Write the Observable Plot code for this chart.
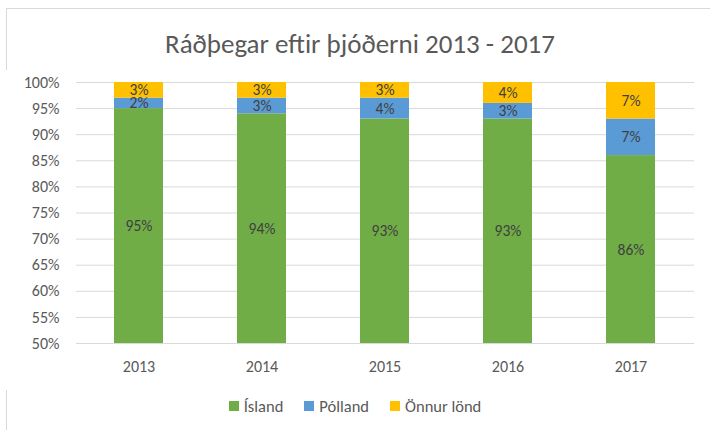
<!DOCTYPE html>
<html>
<head>
<meta charset="utf-8">
<script src="https://cdn.jsdelivr.net/npm/d3@7"></script>
<script src="https://cdn.jsdelivr.net/npm/@observablehq/plot@0.6"></script>
<style>
  html, body { margin: 0; padding: 0; background: #fff; }
  body { width: 710px; height: 430px; position: relative; overflow: hidden;
         font-family: Carlito, Calibri, Lato, "Liberation Sans", sans-serif; }
  #frame { position: absolute; left: 6px; top: 8px; width: 760px; height: 480px;
           border-left: 1px solid #d9d9d9; border-top: 1px solid #d9d9d9; }
  #title { position: absolute; left: 5px; width: 710px; top: 28px; text-align: center;
           font-size: 27px; color: #595959; line-height: 32px; }
  #chart { position: absolute; left: 0; top: 70px; }
  #legend { position: absolute; left: 0; width: 710px; top: 397px; display: flex;
            justify-content: center; gap: 21px; font-size: 16.5px; color: #595959; line-height: 18px; }
  #legend span.item { display: flex; align-items: center; }
  #legend span.sw { width: 10px; height: 10px; display: inline-block; margin-right: 5px; }
</style>
</head>
<body>
<div id="frame"></div>
<div id="title">Ráðþegar eftir þjóðerni 2013 - 2017</div>
<div id="chart"></div>
<div id="legend"></div>
<script>
const years = ["2013", "2014", "2015", "2016", "2017"];
const series = ["Ísland", "Pólland", "Önnur lönd"];
const colors = ["#70AD47", "#5B9BD5", "#FFC000"];
const island = [95, 94, 93, 93, 86];
const polland = [2, 3, 4, 3, 7];
const onnur = [3, 3, 3, 4, 7];
const yTicks = [50, 55, 60, 65, 70, 75, 80, 85, 90, 95, 100];
const yMin = 50;

const values = [island, polland, onnur];
const rows = [];
years.forEach((yr, i) => {
  let cum = 0;
  series.forEach((s, k) => {
    const v = values[k][i];
    const lo = cum, hi = cum + v;
    cum = hi;
    const y1 = Math.max(lo, yMin);
    rows.push({year: yr, series: s, value: v, y1, y2: hi, mid: (y1 + hi) / 2});
  });
});

const W = 710, H = 320;
const chart = Plot.plot({
  width: W, height: H,
  marginTop: 12, marginBottom: 47, marginLeft: 76, marginRight: 16,
  style: {fontFamily: "Carlito, Calibri, Lato, 'Liberation Sans', sans-serif", fontSize: "16px", color: "#595959", background: "#fff", overflow: "visible"},
  x: {domain: years, paddingInner: 0.6, paddingOuter: 0.3, label: null},
  y: {domain: [50, 100], label: null},
  color: {domain: series, range: colors},
  marks: [
    Plot.ruleY(yTicks, {stroke: "#d9d9d9", strokeWidth: 1}),
    Plot.barY(rows, {x: "year", y1: "y1", y2: "y2", fill: "series", clip: true}),
    Plot.text(rows, {x: "year", y: "mid", text: d => d.value + "%", fill: "#404040", fontSize: 15.5}),
    Plot.axisY(yTicks, {tickSize: 0, tickPadding: 17, tickFormat: d => d + "%", fontSize: 16}),
    Plot.axisX({tickSize: 0, tickPadding: 17, fontSize: 16})
  ]
});
document.getElementById("chart").appendChild(chart);

const leg = document.getElementById("legend");
series.forEach((s, k) => {
  const it = document.createElement("span");
  it.className = "item";
  const sw = document.createElement("span");
  sw.className = "sw";
  sw.style.background = colors[k];
  it.appendChild(sw);
  it.appendChild(document.createTextNode(s));
  leg.appendChild(it);
});
</script>
</body>
</html>
